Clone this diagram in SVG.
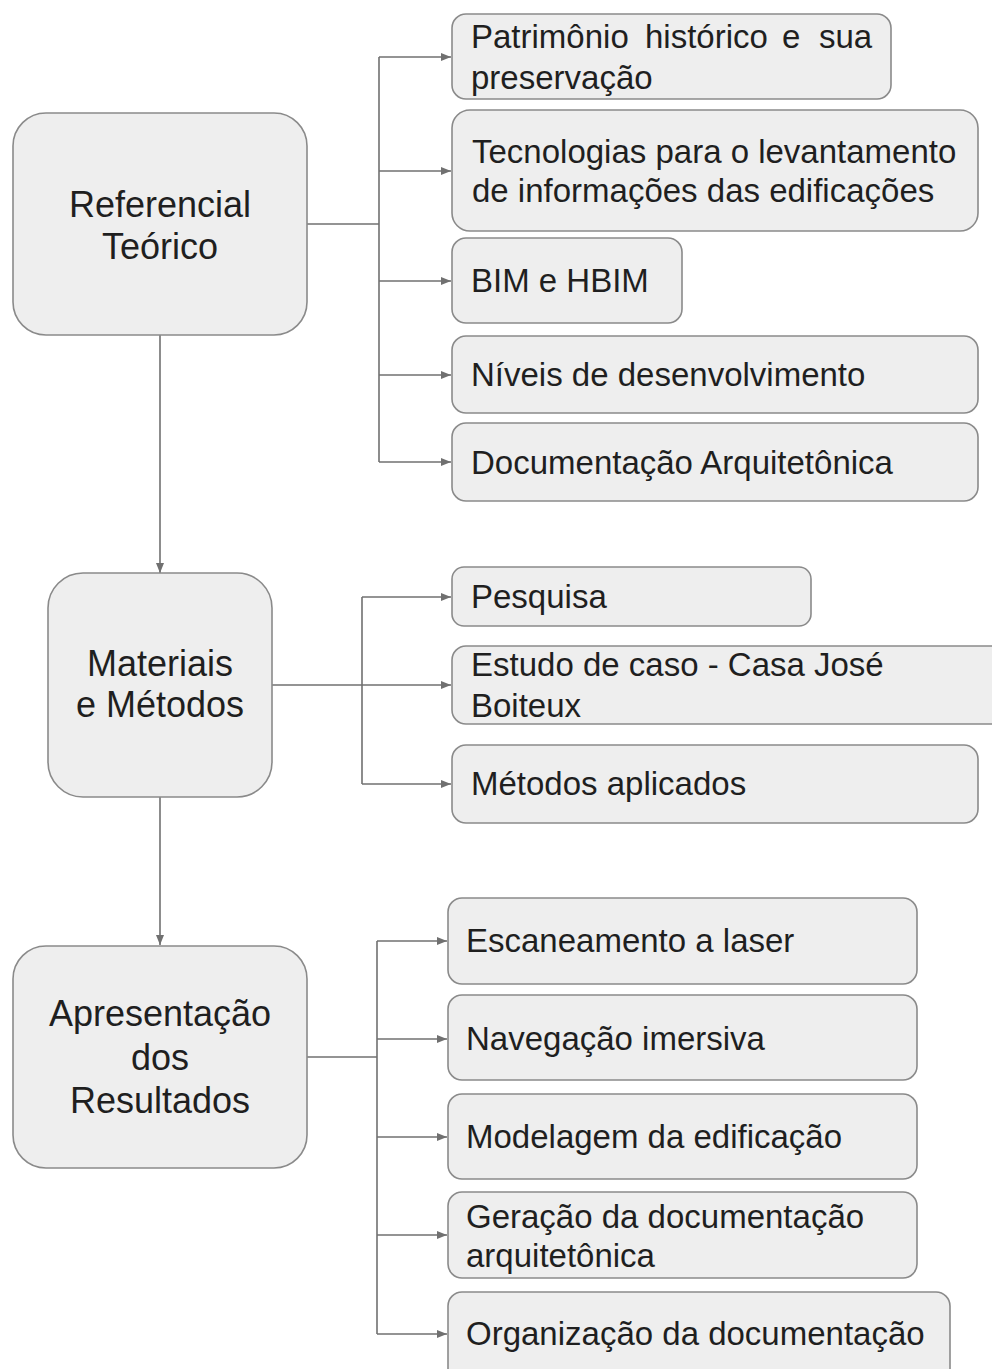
<svg xmlns="http://www.w3.org/2000/svg" width="992" height="1369" viewBox="0 0 992 1369">
<defs>
<style>
.box{fill:#eeeeee;stroke:#8a8a8a;stroke-width:1.6}
.t{font-family:"Liberation Sans",Arial,sans-serif;fill:#1f1f1f}
.big{font-size:36px;text-anchor:middle}
.sm{font-size:33px}
.c{fill:none;stroke:#707070;stroke-width:1.6}
</style>
<marker id="ah" viewBox="0 0 10 8" refX="10" refY="4" markerWidth="10" markerHeight="8" markerUnits="userSpaceOnUse" orient="auto">
<path d="M0,0 L10,4 L0,8 Z" fill="#707070"/>
</marker>
</defs>
<rect width="992" height="1369" fill="#ffffff"/>
<g id="connectors">
<path class="c" d="M307,224 H379"/>
<path class="c" d="M379,57 V462"/>
<path class="c" d="M379,57 H451" marker-end="url(#ah)"/>
<path class="c" d="M379,171 H451" marker-end="url(#ah)"/>
<path class="c" d="M379,281 H451" marker-end="url(#ah)"/>
<path class="c" d="M379,375 H451" marker-end="url(#ah)"/>
<path class="c" d="M379,462 H451" marker-end="url(#ah)"/>
<path class="c" d="M160,335 V573" marker-end="url(#ah)"/>
<path class="c" d="M272,685 H451" marker-end="url(#ah)"/>
<path class="c" d="M362,597 V784"/>
<path class="c" d="M362,597 H451" marker-end="url(#ah)"/>
<path class="c" d="M362,784 H451" marker-end="url(#ah)"/>
<path class="c" d="M160,797 V945" marker-end="url(#ah)"/>
<path class="c" d="M307,1057 H377"/>
<path class="c" d="M377,941 V1334"/>
<path class="c" d="M377,941 H447" marker-end="url(#ah)"/>
<path class="c" d="M377,1039 H447" marker-end="url(#ah)"/>
<path class="c" d="M377,1137 H447" marker-end="url(#ah)"/>
<path class="c" d="M377,1235 H447" marker-end="url(#ah)"/>
<path class="c" d="M377,1334 H447" marker-end="url(#ah)"/>
</g>
<g id="referencial">
<rect class="box" x="13" y="113" width="294" height="222" rx="33"/>
<text class="t big" x="160" y="217">Referencial</text>
<text class="t big" x="160" y="259">Teórico</text>
</g>
<g id="patrimonio">
<rect class="box" x="452" y="14" width="439" height="85" rx="14"/>
<text class="t sm" y="48"><tspan x="471">Patrimônio</tspan><tspan x="645">histórico</tspan><tspan x="782">e</tspan><tspan x="819">sua</tspan></text>
<text class="t sm" x="471" y="89">preservação</text>
</g>
<g id="tecnologias">
<rect class="box" x="452" y="110" width="526" height="121" rx="18"/>
<text class="t sm" x="472" y="163">Tecnologias para o levantamento</text>
<text class="t sm" x="472" y="202">de informações das edificações</text>
</g>
<g id="bim">
<rect class="box" x="452" y="238" width="230" height="85" rx="14"/>
<text class="t sm" x="471" y="292">BIM e HBIM</text>
</g>
<g id="niveis">
<rect class="box" x="452" y="336" width="526" height="77" rx="14"/>
<text class="t sm" x="471" y="386">Níveis de desenvolvimento</text>
</g>
<g id="documentacao">
<rect class="box" x="452" y="423" width="526" height="78" rx="14"/>
<text class="t sm" x="471" y="474">Documentação Arquitetônica</text>
</g>
<g id="materiais">
<rect class="box" x="48" y="573" width="224" height="224" rx="35"/>
<text class="t big" x="160" y="676">Materiais</text>
<text class="t big" x="160" y="717">e Métodos</text>
</g>
<g id="pesquisa">
<rect class="box" x="452" y="567" width="359" height="59" rx="12"/>
<text class="t sm" x="471" y="608">Pesquisa</text>
</g>
<g id="estudo">
<rect class="box" x="452" y="646" width="560" height="78" rx="14"/>
<text class="t sm" x="471" y="676">Estudo de caso - Casa José</text>
<text class="t sm" x="471" y="717">Boiteux</text>
</g>
<g id="metodos">
<rect class="box" x="452" y="745" width="526" height="78" rx="14"/>
<text class="t sm" x="471" y="795">Métodos aplicados</text>
</g>
<g id="apresentacao">
<rect class="box" x="13" y="946" width="294" height="222" rx="33"/>
<text class="t big" x="160" y="1026">Apresentação</text>
<text class="t big" x="160" y="1070">dos</text>
<text class="t big" x="160" y="1113">Resultados</text>
</g>
<g id="escaneamento">
<rect class="box" x="448" y="898" width="469" height="86" rx="14"/>
<text class="t sm" x="466" y="952">Escaneamento a laser</text>
</g>
<g id="navegacao">
<rect class="box" x="448" y="995" width="469" height="85" rx="14"/>
<text class="t sm" x="466" y="1050">Navegação imersiva</text>
</g>
<g id="modelagem">
<rect class="box" x="448" y="1094" width="469" height="85" rx="14"/>
<text class="t sm" x="466" y="1148">Modelagem da edificação</text>
</g>
<g id="geracao">
<rect class="box" x="448" y="1192" width="469" height="86" rx="14"/>
<text class="t sm" x="466" y="1228">Geração da documentação</text>
<text class="t sm" x="466" y="1267">arquitetônica</text>
</g>
<g id="organizacao">
<rect class="box" x="448" y="1292" width="502" height="100" rx="14"/>
<text class="t sm" x="466" y="1345">Organização da documentação</text>
</g>
</svg>
